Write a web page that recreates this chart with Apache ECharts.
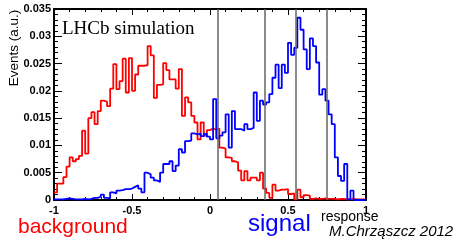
<!DOCTYPE html>
<html>
<head>
<meta charset="utf-8">
<script src="https://cdn.jsdelivr.net/npm/echarts@6/dist/echarts.min.js"></script>
<style>
html, body { margin: 0; padding: 0; background: #fff; }
#myChart { width: 462px; height: 240px; }
</style>
</head>
<body>
<div id="myChart"></div>
<script>
// histogram binning: 100 bins from -1 to 1
const binLow = -1
const binWidth = 0.02

// background (red), one value per bin
const background = [
  0.0014, 0.0030, 0.0030, 0.0042, 0.0061, 0.0078, 0.0071, 0.0075, 0.0081, 0.0127,
  0.0085, 0.0150, 0.0161, 0.0139, 0.0163, 0.0182, 0.0180, 0.0172, 0.0204, 0.0249,
  0.0203, 0.0218, 0.0259, 0.0197, 0.0260, 0.0200, 0.0230, 0.0246, 0.0246, 0.0247,
  0.0282, 0.0265, 0.0187, 0.0211, 0.0212, 0.0251, 0.0238, 0.0221, 0.0221, 0.0204,
  0.0240, 0.0154, 0.0188, 0.0179, 0.0154, 0.0142, 0.0111, 0.0142, 0.0118, 0.0128,
  0.0131, 0.0129, 0.0131, 0.0096, 0.0094, 0.0078, 0.0077, 0.0071, 0.0069, 0.0054,
  0.0036, 0.0053, 0.0036, 0.0041, 0.0041, 0.0036, 0.0050, 0.0021, 0.0013, 0.0004,
  0.0028, 0.0017, 0.0019, 0.0019, 0.0020, 0.0011, 0.0012, 0.0001, 0.0019, 0.0005,
  0.0009, 0.0008, 0.0002, 0.0003, 0.0002, 0.0002, 0.0003, 0.0002, 0.0002, 0.0002,
  0.0001, 0.0002, 0.0002, 0.0001, 0.0001, 0.0002, 0.0001, 0.0001, 0.0001, 0.0001
]

// signal (blue)
const signal = [
  0.0001, 0.0001, 0.0001, 0.0002, 0.0003, 0.0002, 0.0001, 0.0001, 0.0001, 0.0002,
  0.0001, 0.0002, 0.0004, 0.0004, 0.0006, 0.0010, 0.0004, 0.0003, 0.0014, 0.0012,
  0.0017, 0.0018, 0.0020, 0.0020, 0.0021, 0.0024, 0.0027, 0.0021, 0.0014, 0.0050,
  0.0047, 0.0041, 0.0036, 0.0033, 0.0050, 0.0066, 0.0066, 0.0071, 0.0053, 0.0063,
  0.0093, 0.0087, 0.0108, 0.0109, 0.0122, 0.0120, 0.0122, 0.0117, 0.0121, 0.0116,
  0.0111, 0.0185, 0.0113, 0.0118, 0.0124, 0.0157, 0.0096, 0.0163, 0.0130, 0.0130,
  0.0127, 0.0139, 0.0130, 0.0132, 0.0197, 0.0145, 0.0182, 0.0175, 0.0179, 0.0194,
  0.0224, 0.0248, 0.0205, 0.0248, 0.0233, 0.0288, 0.0266, 0.0279, 0.0334, 0.0312,
  0.0276, 0.0240, 0.0296, 0.0282, 0.0252, 0.0193, 0.0203, 0.0182, 0.0157, 0.0139,
  0.0078, 0.0044, 0.0035, 0.0066, 0.0001, 0.0017, 0, 0, 0, 0
]

// cut positions (grey vertical lines)
const cuts = [0.05, 0.35, 0.55, 0.75]

// points at the low edge of every bin, plus the last edge
function steps(vals) {
  let pts = vals.map((v, i) => [binLow + i * binWidth, v])
  pts.push([binLow + vals.length * binWidth, vals[vals.length - 1]])
  return pts
}

const labelFont = { color: '#000', fontFamily: 'Liberation Sans', fontWeight: 'bold', fontSize: 11 }

const myChart = echarts.init(document.getElementById('myChart'))
myChart.setOption({
  animation: false,
  backgroundColor: '#fff',
  grid: { left: 54, top: 9, width: 312, height: 191 },
  xAxis: [
    {
      type: 'value', min: -1, max: 1, interval: 0.5,
      axisLine: { onZero: false, lineStyle: { color: '#000', width: 2 } },
      axisTick: { inside: true, length: 6, lineStyle: { color: '#000' } },
      minorTick: { show: true, splitNumber: 5, length: 3, lineStyle: { color: '#000' } },
      splitLine: { show: false },
      axisLabel: Object.assign({ margin: 5 }, labelFont)
    },
    {
      type: 'value', position: 'top', min: -1, max: 1, interval: 0.5,
      axisLine: { onZero: false, lineStyle: { color: '#000', width: 2 } },
      axisTick: { inside: true, length: 6, lineStyle: { color: '#000' } },
      minorTick: { show: true, splitNumber: 5, length: 3, lineStyle: { color: '#000' } },
      splitLine: { show: false },
      axisLabel: { show: false }
    }
  ],
  yAxis: [
    {
      type: 'value', position: 'left', min: 0, max: 0.035, interval: 0.005,
      axisLine: { show: true, onZero: false, lineStyle: { color: '#000', width: 2 } },
      axisTick: { show: true, inside: true, length: 8, lineStyle: { color: '#000' } },
      minorTick: { show: true, splitNumber: 5, length: 4, lineStyle: { color: '#000' } },
      splitLine: { show: false },
      axisLabel: Object.assign({ margin: 3 }, labelFont)
    },
    {
      type: 'value', position: 'right', min: 0, max: 0.035, interval: 0.005,
      axisLine: { show: true, onZero: false, lineStyle: { color: '#000', width: 2 } },
      axisTick: { show: true, inside: true, length: 8, lineStyle: { color: '#000' } },
      minorTick: { show: true, splitNumber: 5, length: 4, lineStyle: { color: '#000' } },
      splitLine: { show: false },
      axisLabel: { show: false }
    }
  ],
  series: [
    {
      name: 'background',
      type: 'line',
      step: 'end',
      data: steps(background),
      symbol: 'none',
      lineStyle: { color: '#ff0000', width: 1.8 },
      z: 3
    },
    {
      name: 'signal',
      type: 'line',
      step: 'end',
      data: steps(signal),
      symbol: 'none',
      lineStyle: { color: '#0000ff', width: 1.8 },
      z: 4
    },
    {
      name: 'cuts',
      type: 'line',
      data: [],
      z: 5,
      markLine: {
        silent: true,
        symbol: 'none',
        label: { show: false },
        lineStyle: { color: '#666', width: 1.5, type: 'solid' },
        data: cuts.map(c => ({ xAxis: c }))
      }
    }
  ],
  graphic: [
    {
      type: 'text', x: 14, y: 48, rotation: Math.PI / 2,
      style: { text: 'Events (a.u.)', fill: '#000', font: '13.5px "Liberation Sans"', align: 'center', verticalAlign: 'middle' }
    },
    {
      type: 'text', x: 62, y: 29,
      style: { text: 'LHCb simulation', fill: '#000', font: '19px "Liberation Serif"', align: 'left', verticalAlign: 'middle' }
    },
    {
      type: 'text', x: 18, y: 227,
      style: { text: 'background', fill: '#ff0000', font: '21px "Liberation Sans"', align: 'left', verticalAlign: 'middle' }
    },
    {
      type: 'text', x: 248, y: 224,
      style: { text: 'signal', fill: '#0000ff', font: '24px "Liberation Sans"', align: 'left', verticalAlign: 'middle' }
    },
    {
      type: 'text', x: 321, y: 217,
      style: { text: 'response', fill: '#000', font: '14px "Liberation Sans"', align: 'left', verticalAlign: 'middle' }
    },
    {
      type: 'text', x: 329, y: 232,
      style: { text: 'M.Chrząszcz 2012', fill: '#000', font: 'italic 15px "Liberation Sans"', align: 'left', verticalAlign: 'middle' }
    }
  ]
})
</script>
</body>
</html>
